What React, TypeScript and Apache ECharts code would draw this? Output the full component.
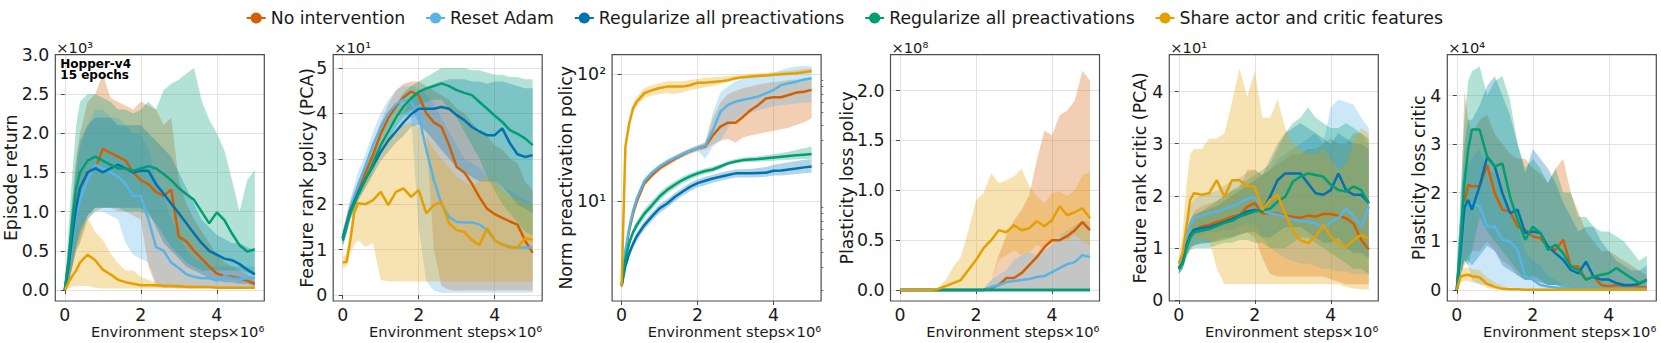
import React, { useEffect, useRef } from 'react';
import * as echarts from 'echarts';

const FONT = 'DejaVu Sans';

// Environment steps (x 10^6)
const X = [0, 0.1, 0.2, 0.3, 0.4, 0.6, 0.8, 1.0, 1.2, 1.4, 1.6, 1.8, 2.0, 2.2, 2.4, 2.6, 2.8, 3.0, 3.2, 3.4, 3.6, 3.8, 4.0, 4.2, 4.4, 4.6, 4.8, 5.0];

const NAMES = ['No intervention', 'Reset Adam', 'Regularize all preactivations', 'Regularize all preactivations#2', 'Share actor and critic features'];
const COLORS = ['#D55E00', '#56B4E9', '#0072B2', '#009E73', '#E69F00'];

// ---- Panel 1: Episode return (x10^3)
const retNoInt = [0, 0.35, 0.75, 1.1, 1.3, 1.5, 1.55, 1.8, 1.75, 1.7, 1.65, 1.5, 1.4, 1.35, 1.25, 1.2, 1.28, 0.68, 0.62, 0.5, 0.4, 0.3, 0.21, 0.18, 0.17, 0.15, 0.12, 0.08];
const retNoIntLo = [0, 0.1, 0.3, 0.5, 0.6, 0.9, 1.0, 1.05, 1.05, 1.0, 1.0, 0.95, 0.9, 0.3, 0.05, 0.03, 0.03, 0.02, 0.02, 0.02, 0.02, 0.02, 0.02, 0.02, 0.02, 0.02, 0.02, 0.02];
const retNoIntHi = [0, 0.6, 1.2, 1.7, 2.0, 2.4, 2.5, 2.75, 2.45, 2.4, 2.35, 2.3, 2.4, 2.35, 2.3, 2.1, 2.2, 1.4, 1.1, 0.9, 0.75, 0.6, 0.45, 0.35, 0.3, 0.25, 0.2, 0.15];
const retReset = [0, 0.3, 0.65, 0.95, 1.15, 1.4, 1.6, 1.55, 1.5, 1.45, 1.35, 1.2, 1.2, 0.9, 0.55, 0.5, 0.35, 0.28, 0.2, 0.17, 0.15, 0.15, 0.12, 0.18, 0.15, 0.14, 0.15, 0.16];
const retResetLo = [0, 0.1, 0.3, 0.5, 0.6, 0.9, 1.0, 1.0, 0.95, 0.9, 0.6, 0.45, 0.4, 0.35, 0.1, 0.05, 0.04, 0.03, 0.03, 0.03, 0.03, 0.03, 0.03, 0.03, 0.03, 0.03, 0.03, 0.03];
const retResetHi = [0, 0.6, 1.1, 1.5, 1.8, 2.1, 2.3, 2.3, 2.2, 2.2, 2.1, 2.0, 2.0, 1.8, 1.4, 1.2, 0.9, 0.7, 0.5, 0.4, 0.35, 0.3, 0.3, 0.3, 0.3, 0.3, 0.3, 0.3];
const retReg = [0, 0.3, 0.7, 1.05, 1.3, 1.5, 1.55, 1.5, 1.55, 1.6, 1.55, 1.5, 1.52, 1.52, 1.35, 1.23, 1.1, 0.98, 0.85, 0.72, 0.6, 0.5, 0.45, 0.4, 0.38, 0.33, 0.26, 0.2];
const retRegLo = [0, 0.1, 0.3, 0.55, 0.7, 0.95, 1.05, 1.05, 1.05, 1.05, 1.05, 1.05, 1.05, 1.0, 0.8, 0.6, 0.5, 0.4, 0.3, 0.25, 0.2, 0.15, 0.12, 0.1, 0.1, 0.08, 0.08, 0.05];
const retRegHi = [0, 0.5, 1.1, 1.6, 1.9, 2.1, 2.2, 2.2, 2.2, 2.1, 2.1, 2.1, 2.1, 2.0, 1.9, 1.8, 1.7, 1.5, 1.3, 1.1, 0.9, 0.8, 0.7, 0.65, 0.6, 0.6, 0.55, 0.5];
const retReg2 = [0, 0.4, 0.9, 1.3, 1.5, 1.65, 1.7, 1.65, 1.6, 1.55, 1.55, 1.52, 1.55, 1.58, 1.55, 1.48, 1.4, 1.3, 1.22, 1.15, 1.0, 0.85, 0.99, 0.89, 0.72, 0.57, 0.49, 0.52];
const retReg2Lo = [0, 0.1, 0.3, 0.55, 0.75, 0.95, 1.05, 1.05, 1.05, 1.05, 1.0, 1.0, 1.0, 0.95, 0.85, 0.7, 0.55, 0.45, 0.35, 0.3, 0.25, 0.25, 0.25, 0.25, 0.25, 0.25, 0.22, 0.2];
const retReg2Hi = [0, 0.8, 1.5, 2.1, 2.4, 2.5, 2.5, 2.45, 2.4, 2.3, 2.3, 2.25, 2.3, 2.4, 2.3, 2.55, 2.63, 2.68, 2.76, 2.83, 2.42, 2.17, 2.0, 1.78, 1.4, 1.0, 1.4, 1.53];
const retShare = [0, 0.1, 0.18, 0.25, 0.35, 0.45, 0.38, 0.26, 0.2, 0.13, 0.1, 0.08, 0.06, 0.06, 0.06, 0.05, 0.05, 0.05, 0.04, 0.04, 0.04, 0.04, 0.03, 0.03, 0.03, 0.03, 0.03, 0.03];
const retShareLo = [0, 0.02, 0.04, 0.05, 0.05, 0.05, 0.03, 0.02, 0.02, 0.02, 0.02, 0.02, 0.02, 0.02, 0.02, 0.02, 0.02, 0.02, 0.02, 0.02, 0.02, 0.02, 0.02, 0.02, 0.02, 0.02, 0.02, 0.02];
const retShareHi = [0, 0.2, 0.4, 0.6, 0.8, 0.92, 0.74, 0.64, 0.47, 0.34, 0.25, 0.25, 0.17, 0.13, 0.1, 0.08, 0.07, 0.06, 0.06, 0.05, 0.05, 0.05, 0.05, 0.05, 0.04, 0.04, 0.04, 0.04];

// ---- Panel 2: Feature rank policy (PCA) (x10^1)
const rpNoInt = [1.25, 1.55, 1.9, 2.1, 2.3, 2.7, 3.1, 3.55, 3.9, 4.15, 4.35, 4.48, 4.4, 4.0, 3.8, 3.7, 3.3, 2.82, 2.7, 2.45, 2.15, 1.9, 1.78, 1.7, 1.62, 1.55, 1.2, 0.93];
const rpNoIntLo = [1.1, 1.35, 1.7, 1.9, 2.1, 2.5, 2.9, 3.3, 3.6, 3.9, 4.0, 4.1, 3.8, 3.5, 1.0, 0.2, 0.12, 0.1, 0.1, 0.1, 0.1, 0.1, 0.1, 0.1, 0.1, 0.1, 0.1, 0.1];
const rpNoIntHi = [1.4, 1.75, 2.1, 2.3, 2.5, 2.9, 3.3, 3.8, 4.2, 4.5, 4.65, 4.7, 4.7, 4.6, 4.5, 4.4, 4.3, 4.1, 4.0, 3.8, 3.6, 3.5, 3.3, 3.2, 3.0, 2.9, 2.5, 2.3];
const rpReset = [1.25, 1.55, 1.9, 2.15, 2.4, 2.85, 3.3, 3.7, 4.0, 4.2, 4.3, 4.25, 3.96, 3.2, 2.53, 2.0, 1.72, 1.61, 1.6, 1.6, 1.55, 1.43, 1.2, 1.12, 1.07, 1.05, 1.05, 1.05];
const rpResetLo = [1.1, 1.35, 1.7, 1.95, 2.2, 2.6, 3.0, 3.4, 3.7, 3.9, 4.0, 3.9, 1.5, 0.3, 0.1, 0.05, 0.05, 0.05, 0.05, 0.05, 0.05, 0.05, 0.05, 0.05, 0.05, 0.05, 0.05, 0.05];
const rpResetHi = [1.4, 1.75, 2.1, 2.4, 2.7, 3.1, 3.6, 4.0, 4.3, 4.5, 4.6, 4.6, 4.55, 4.4, 4.2, 3.9, 3.6, 3.3, 3.0, 2.9, 2.8, 2.6, 2.5, 2.4, 2.3, 2.2, 2.1, 2.0];
const rpReg = [1.25, 1.55, 1.85, 2.05, 2.25, 2.55, 2.85, 3.15, 3.4, 3.6, 3.8, 3.98, 4.1, 4.1, 4.1, 4.14, 4.1, 3.96, 3.85, 3.7, 3.6, 3.52, 3.52, 3.67, 3.34, 3.1, 3.04, 3.08];
const rpRegLo = [1.1, 1.4, 1.7, 1.9, 2.1, 2.35, 2.65, 2.95, 3.15, 3.35, 3.5, 3.7, 3.75, 3.6, 3.4, 3.2, 3.0, 2.8, 2.7, 2.6, 2.5, 2.5, 2.5, 2.4, 2.2, 2.0, 1.9, 1.8];
const rpRegHi = [1.4, 1.7, 2.0, 2.2, 2.4, 2.75, 3.05, 3.35, 3.6, 3.85, 4.05, 4.3, 4.45, 4.55, 4.65, 4.7, 4.75, 4.75, 4.75, 4.7, 4.7, 4.65, 4.7, 4.7, 4.65, 4.6, 4.55, 4.55];
const rpReg2 = [1.2, 1.5, 1.8, 2.0, 2.2, 2.55, 2.9, 3.3, 3.6, 3.9, 4.15, 4.33, 4.47, 4.55, 4.6, 4.66, 4.6, 4.51, 4.45, 4.4, 4.25, 4.1, 3.95, 3.81, 3.63, 3.55, 3.45, 3.3];
const rpReg2Lo = [1.05, 1.35, 1.65, 1.85, 2.05, 2.4, 2.7, 3.1, 3.4, 3.7, 3.9, 4.05, 4.2, 4.25, 4.3, 4.3, 4.1, 3.9, 3.6, 3.3, 3.0, 2.6, 2.3, 2.0, 1.8, 1.6, 1.4, 1.3];
const rpReg2Hi = [1.35, 1.65, 1.95, 2.15, 2.35, 2.7, 3.1, 3.5, 3.9, 4.2, 4.45, 4.6, 4.7, 4.8, 4.9, 5.0, 5.0, 5.0, 5.0, 4.95, 4.95, 4.9, 4.85, 4.85, 4.8, 4.8, 4.75, 4.75];
const rpShare = [0.72, 0.73, 1.2, 1.8, 2.02, 2.0, 2.09, 2.27, 1.98, 2.27, 2.35, 2.16, 2.31, 1.8, 1.98, 2.05, 1.58, 1.43, 1.39, 1.21, 1.1, 1.47, 1.21, 1.1, 1.05, 1.05, 1.25, 1.22];
const rpShareLo = [0.6, 0.62, 0.9, 1.1, 1.2, 1.06, 1.14, 0.33, 0.3, 0.3, 0.3, 0.3, 0.3, 0.3, 0.3, 0.3, 0.3, 0.3, 0.3, 0.3, 0.3, 0.3, 0.3, 0.3, 0.3, 0.3, 0.3, 0.3];
const rpShareHi = [0.85, 0.9, 1.5, 2.1, 2.5, 2.8, 3.1, 3.3, 3.5, 3.6, 3.75, 3.8, 3.7, 3.5, 3.2, 3.0, 2.8, 2.6, 2.5, 2.4, 2.5, 2.6, 2.5, 2.3, 2.2, 2.1, 2.0, 2.0];

// ---- Panel 3: Norm preactivation policy (log)
const nmNoInt = [2.15, 3.9, 5.9, 8.0, 10.0, 13.9, 16.1, 18.2, 19.9, 21.6, 23.2, 24.8, 26.1, 27.0, 33, 38.7, 41.6, 41.6, 46.4, 52.4, 57.4, 64.6, 65.9, 65.9, 68.8, 71.8, 73, 75.4];
const nmNoIntLo = [2.05, 3.6, 5.5, 7.5, 9.4, 13.1, 15.3, 17.3, 19, 20.6, 22.1, 23.6, 24.8, 25.5, 28, 30, 31, 29, 32, 33, 34, 35, 36, 37, 38, 40, 42, 45];
const nmNoIntHi = [2.25, 4.2, 6.3, 8.5, 10.6, 14.7, 17, 19.2, 21, 22.7, 24.4, 26, 27.5, 29, 45, 60, 70, 74, 78, 80, 83, 85, 87, 88, 90, 91, 92, 93];
const nmReset = [2.15, 4.1, 6.2, 8.4, 10.5, 14.5, 16.8, 18.8, 20.5, 22, 23.5, 25, 26.3, 27.5, 36, 50.8, 57.4, 61, 63, 64.7, 67, 70.8, 75.4, 82.4, 85, 87.5, 91.2, 93];
const nmResetLo = [2.05, 3.8, 5.8, 7.9, 9.9, 13.7, 16, 17.9, 19.5, 21, 22.4, 23.9, 25, 21.5, 27, 30, 38, 44, 48, 50, 52, 54, 56, 57, 58, 59, 60, 60];
const nmResetHi = [2.25, 4.4, 6.6, 8.9, 11.1, 15.3, 17.6, 19.7, 21.5, 23, 24.6, 26.1, 27.6, 29, 50, 72, 80, 88, 92, 95, 97, 100, 103, 108, 112, 115, 116, 115];
const nmReg = [2.15, 3.1, 3.9, 4.6, 5.3, 6.5, 7.6, 8.8, 9.6, 10.8, 11.9, 13.0, 13.9, 14.5, 15.1, 15.6, 16.1, 16.6, 16.6, 16.6, 16.7, 16.8, 17.4, 17.5, 17.8, 18.1, 18.5, 18.8];
const nmRegLo = [2.05, 2.85, 3.6, 4.25, 4.9, 6.0, 7.0, 8.1, 8.9, 10.0, 11.0, 12.0, 12.9, 13.4, 14.0, 14.5, 15.0, 15.4, 15.4, 15.4, 15.5, 15.6, 16.0, 16.0, 16.2, 16.4, 16.6, 16.8];
const nmRegHi = [2.25, 3.35, 4.2, 4.95, 5.7, 7.0, 8.2, 9.5, 10.4, 11.6, 12.8, 14.0, 14.9, 15.6, 16.2, 16.8, 17.3, 17.8, 17.9, 18.0, 18.3, 18.6, 19.4, 19.8, 20.3, 20.8, 21.2, 21.5];
const nmReg2 = [2.15, 3.5, 4.7, 5.7, 6.5, 8.0, 9.3, 10.9, 12.3, 13.5, 14.7, 15.7, 16.6, 17.3, 17.8, 18.8, 19.9, 20.6, 21.1, 21.3, 21.5, 21.8, 22.1, 22.4, 22.7, 23.0, 23.3, 23.6];
const nmReg2Lo = [2.05, 3.25, 4.35, 5.3, 6.0, 7.4, 8.6, 10.1, 11.5, 12.6, 13.8, 14.8, 15.7, 16.4, 17.0, 18.0, 19.1, 19.8, 20.3, 20.4, 20.5, 20.7, 20.9, 21.1, 21.2, 21.4, 21.5, 21.6];
const nmReg2Hi = [2.25, 3.75, 5.05, 6.1, 7.0, 8.7, 10.1, 11.8, 13.2, 14.4, 15.6, 16.6, 17.5, 18.2, 18.7, 19.7, 20.8, 21.5, 22.0, 22.3, 22.6, 23.0, 23.5, 24.0, 24.6, 25.3, 26.2, 27.0];
const nmShare = [2.15, 27, 41, 54, 61, 71, 75, 78, 80, 80, 80, 82, 86, 86, 87, 88, 90, 93, 95, 96, 97, 98, 99, 100, 101, 102, 104, 106];
const nmShareLo = [2.05, 24, 37, 49, 56, 65, 68, 70, 71, 70, 72, 75, 77, 79, 81, 84, 87, 90, 92, 94, 95, 96, 97, 98, 99, 100, 101, 103];
const nmShareHi = [2.25, 30, 45, 59, 67, 78, 82, 85, 88, 88, 88, 90, 92, 94, 95, 96, 97, 98, 99, 101, 102, 103, 104, 105, 106, 108, 110, 112];

// ---- Panel 4: Plasticity loss policy (x10^8)
const ppNoInt = [0, 0, 0, 0, 0, 0, 0, 0, 0, 0, 0, 0, 0, 0, 0.02, 0.05, 0.12, 0.12, 0.17, 0.25, 0.33, 0.43, 0.5, 0.5, 0.54, 0.6, 0.68, 0.6];
const ppNoIntLo = [0, 0, 0, 0, 0, 0, 0, 0, 0, 0, 0, 0, 0, 0, 0, 0, 0, 0, 0, 0, 0, 0, 0, 0, 0, 0, 0, 0];
const ppNoIntHi = [0, 0, 0, 0, 0, 0, 0, 0, 0, 0, 0, 0, 0, 0.01, 0.1, 0.35, 0.55, 0.7, 0.8, 0.95, 1.3, 1.6, 1.55, 1.75, 1.8, 1.9, 2.2, 2.1];
const ppReset = [0, 0, 0, 0, 0, 0, 0, 0, 0, 0, 0, 0, 0, 0, 0.03, 0.05, 0.08, 0.09, 0.1, 0.11, 0.13, 0.14, 0.18, 0.22, 0.26, 0.28, 0.35, 0.33];
const ppResetLo = [0, 0, 0, 0, 0, 0, 0, 0, 0, 0, 0, 0, 0, 0, 0, 0, 0, 0, 0, 0, 0, 0, 0, 0, 0, 0, 0, 0];
const ppResetHi = [0, 0, 0, 0, 0, 0, 0, 0, 0, 0, 0, 0, 0, 0.01, 0.1, 0.15, 0.2, 0.3, 0.35, 0.38, 0.35, 0.4, 0.45, 0.55, 0.6, 0.65, 0.7, 0.68];
const ppReg = [0, 0, 0, 0, 0, 0, 0, 0, 0, 0, 0, 0, 0, 0, 0, 0, 0, 0, 0, 0, 0, 0, 0, 0, 0, 0, 0, 0];
const ppRegLo = [0, 0, 0, 0, 0, 0, 0, 0, 0, 0, 0, 0, 0, 0, 0, 0, 0, 0, 0, 0, 0, 0, 0, 0, 0, 0, 0, 0];
const ppRegHi = [0, 0, 0, 0, 0, 0, 0, 0, 0, 0, 0, 0, 0, 0, 0, 0, 0, 0, 0, 0, 0, 0, 0, 0, 0, 0, 0, 0];
const ppReg2 = [0, 0, 0, 0, 0, 0, 0, 0, 0, 0, 0, 0, 0, 0, 0, 0, 0, 0, 0, 0, 0, 0, 0, 0, 0, 0, 0, 0];
const ppReg2Lo = [0, 0, 0, 0, 0, 0, 0, 0, 0, 0, 0, 0, 0, 0, 0, 0, 0, 0, 0, 0, 0, 0, 0, 0, 0, 0, 0, 0];
const ppReg2Hi = [0, 0, 0, 0, 0, 0, 0, 0, 0, 0, 0, 0, 0, 0, 0, 0, 0, 0, 0, 0, 0, 0, 0, 0, 0, 0, 0, 0];
const ppShare = [0, 0, 0, 0, 0, 0, 0, 0.01, 0.04, 0.07, 0.1, 0.2, 0.3, 0.42, 0.5, 0.6, 0.58, 0.65, 0.6, 0.62, 0.69, 0.64, 0.7, 0.84, 0.75, 0.78, 0.82, 0.72];
const ppShareLo = [0, 0, 0, 0, 0, 0, 0, 0, 0, 0, 0, 0, 0, 0, 0.1, 0.3, 0.35, 0.4, 0.35, 0.38, 0.45, 0.42, 0.48, 0.55, 0.5, 0.55, 0.5, 0.45];
const ppShareHi = [0, 0, 0, 0, 0, 0, 0, 0.02, 0.1, 0.23, 0.33, 0.6, 0.9, 0.97, 1.17, 1.07, 1.1, 1.14, 1.22, 1.04, 0.94, 0.87, 0.97, 0.99, 0.94, 1.0, 1.15, 1.18];

// ---- Panel 5: Feature rank critic (PCA) (x10^1)
const rcNoInt = [0.62, 0.7, 1.02, 1.2, 1.34, 1.41, 1.44, 1.5, 1.54, 1.6, 1.63, 1.79, 1.86, 1.66, 1.66, 1.66, 1.62, 1.6, 1.58, 1.62, 1.6, 1.65, 1.65, 1.62, 1.57, 1.47, 1.15, 0.97];
const rcNoIntLo = [0.55, 0.6, 0.85, 1.0, 1.05, 1.1, 1.1, 1.15, 1.2, 1.2, 1.25, 1.3, 1.2, 0.8, 0.5, 0.45, 0.45, 0.45, 0.45, 0.45, 0.45, 0.45, 0.4, 0.35, 0.3, 0.3, 0.3, 0.3];
const rcNoIntHi = [0.7, 0.8, 1.2, 1.5, 1.7, 1.8, 1.85, 1.9, 2.0, 2.1, 2.15, 2.5, 2.5, 2.4, 2.5, 2.6, 2.7, 2.8, 2.8, 2.9, 2.9, 3.0, 3.1, 3.0, 3.0, 3.2, 3.2, 3.0];
const rcReset = [0.6, 0.8, 1.2, 1.45, 1.57, 1.62, 1.66, 1.7, 1.75, 1.8, 1.86, 1.95, 1.98, 1.72, 1.66, 1.64, 1.6, 1.54, 1.52, 1.5, 1.47, 1.38, 1.5, 1.57, 1.76, 1.6, 1.41, 1.79];
const rcResetLo = [0.5, 0.6, 0.9, 1.1, 1.2, 1.25, 1.3, 1.3, 1.35, 1.35, 1.4, 1.45, 1.45, 1.2, 1.0, 0.9, 0.8, 0.75, 0.7, 0.7, 0.65, 0.6, 0.6, 0.55, 0.55, 0.5, 0.5, 0.5];
const rcResetHi = [0.7, 1.0, 1.5, 1.8, 1.95, 2.0, 2.05, 2.1, 2.2, 2.3, 2.35, 2.45, 2.5, 2.4, 2.5, 2.7, 2.8, 2.9, 3.0, 3.1, 3.2, 3.0, 3.7, 3.85, 3.8, 3.75, 3.5, 3.3];
const rcReg = [0.6, 0.72, 1.05, 1.25, 1.35, 1.38, 1.4, 1.45, 1.5, 1.55, 1.62, 1.7, 1.73, 1.7, 1.98, 2.3, 2.43, 2.43, 2.43, 2.24, 2.05, 2.02, 2.11, 2.43, 2.11, 2.02, 2.02, 1.86];
const rcRegLo = [0.5, 0.6, 0.85, 1.0, 1.05, 1.08, 1.1, 1.12, 1.15, 1.2, 1.25, 1.3, 1.3, 1.2, 1.2, 1.3, 1.4, 1.4, 1.4, 1.3, 1.2, 1.1, 1.1, 1.2, 1.0, 0.9, 0.9, 0.8];
const rcRegHi = [0.7, 0.85, 1.3, 1.55, 1.65, 1.7, 1.75, 1.8, 1.9, 2.0, 2.1, 2.2, 2.3, 2.4, 2.7, 3.0, 3.2, 3.3, 3.4, 3.3, 3.2, 3.1, 3.0, 3.2, 3.1, 3.0, 3.0, 2.9];
const rcReg2 = [0.6, 0.7, 1.0, 1.2, 1.3, 1.33, 1.36, 1.42, 1.48, 1.52, 1.6, 1.65, 1.7, 1.72, 1.75, 1.89, 1.98, 2.27, 2.37, 2.43, 2.4, 2.37, 2.21, 2.11, 2.08, 2.18, 2.11, 1.86];
const rcReg2Lo = [0.5, 0.6, 0.8, 0.95, 1.0, 1.0, 1.0, 1.05, 1.1, 1.1, 1.15, 1.15, 1.1, 1.1, 1.0, 1.0, 1.0, 1.1, 1.2, 1.2, 1.1, 1.0, 0.9, 0.8, 0.7, 0.6, 0.6, 0.5];
const rcReg2Hi = [0.7, 0.85, 1.25, 1.5, 1.6, 1.7, 1.8, 1.9, 2.0, 2.1, 2.2, 2.3, 2.4, 2.5, 2.6, 2.9, 3.2, 3.4, 3.5, 3.7, 3.5, 3.4, 3.3, 3.3, 3.4, 3.3, 3.2, 3.1];
const rcShare = [0.7, 0.9, 1.4, 1.92, 2.05, 2.02, 2.05, 2.3, 1.98, 2.3, 2.3, 2.18, 2.18, 1.73, 1.92, 2.02, 1.66, 1.34, 1.15, 1.09, 1.22, 1.44, 1.22, 1.09, 1.02, 1.15, 1.25, 1.18];
const rcShareLo = [0.65, 0.6, 0.9, 1.1, 1.2, 1.2, 1.15, 0.6, 0.3, 0.3, 0.3, 0.3, 0.3, 0.3, 0.3, 0.3, 0.3, 0.3, 0.3, 0.3, 0.3, 0.3, 0.3, 0.3, 0.25, 0.22, 0.2, 0.2];
const rcShareHi = [0.75, 1.3, 2.2, 2.8, 2.9, 2.9, 3.1, 3.1, 3.2, 3.8, 4.45, 3.9, 4.4, 3.5, 3.5, 3.85, 3.3, 3.0, 2.9, 2.8, 2.8, 2.9, 2.7, 2.5, 2.6, 3.0, 3.3, 3.2];

// ---- Panel 6: Plasticity loss critic (x10^4)
const pcNoInt = [0, 0.9, 1.78, 2.16, 2.13, 2.13, 2.57, 1.99, 1.65, 1.61, 1.3, 1.23, 1.1, 1.06, 0.89, 0.82, 1.03, 0.48, 0.48, 0.21, 0.27, 0.1, 0.07, 0.1, 0.08, 0.08, 0.06, 0.05];
const pcNoIntLo = [0, 0.3, 0.5, 0.7, 0.8, 0.8, 1.0, 0.8, 0.6, 0.5, 0.3, 0.2, 0.2, 0.15, 0.1, 0.1, 0.1, 0.05, 0.03, 0.02, 0.02, 0.02, 0.02, 0.02, 0.02, 0.02, 0.02, 0.02];
const pcNoIntHi = [0, 1.5, 4.1, 3.5, 3.2, 3.5, 3.6, 3.2, 3.0, 2.8, 2.7, 2.7, 2.5, 2.4, 2.2, 2.5, 2.7, 2.0, 1.6, 1.2, 1.0, 0.8, 0.8, 0.7, 0.6, 0.5, 0.4, 0.3];
const pcReset = [0, 1.3, 1.78, 1.8, 1.78, 1.72, 1.3, 1.3, 1.03, 0.99, 0.82, 0.27, 0.21, 0.1, 0.07, 0.05, 0.03, 0.02, 0.02, 0.02, 0.02, 0.02, 0.02, 0.02, 0.02, 0.02, 0.02, 0.02];
const pcResetLo = [0, 0.5, 0.6, 0.5, 0.2, 0.1, 0.1, 0.1, 0.05, 0.05, 0.02, 0.01, 0.01, 0.01, 0.01, 0.01, 0.01, 0.01, 0.01, 0.01, 0.01, 0.01, 0.01, 0.01, 0.01, 0.01, 0.01, 0.01];
const pcResetHi = [0, 2.0, 2.5, 2.6, 2.7, 2.9, 2.5, 2.4, 2.0, 1.6, 1.3, 0.8, 0.6, 0.5, 0.3, 0.2, 0.1, 0.06, 0.06, 0.06, 0.06, 0.06, 0.06, 0.06, 0.06, 0.06, 0.06, 0.06];
const pcReg = [0, 0.8, 1.7, 1.85, 1.65, 2.13, 2.74, 2.54, 1.99, 1.58, 1.65, 1.17, 1.2, 1.17, 0.89, 0.75, 0.62, 0.41, 0.34, 0.58, 0.27, 0.21, 0.21, 0.14, 0.1, 0.1, 0.12, 0.2];
const pcRegLo = [0, 0.3, 0.6, 0.6, 0.5, 0.7, 0.9, 0.8, 0.5, 0.4, 0.3, 0.2, 0.2, 0.15, 0.1, 0.1, 0.05, 0.03, 0.03, 0.02, 0.02, 0.02, 0.02, 0.02, 0.02, 0.02, 0.02, 0.02];
const pcRegHi = [0, 1.5, 3.0, 3.5, 3.5, 3.8, 4.2, 4.4, 4.0, 3.6, 3.0, 2.4, 2.9, 2.7, 2.5, 2.2, 1.8, 1.5, 1.2, 1.3, 1.3, 1.0, 0.8, 0.6, 0.5, 0.4, 0.4, 0.5];
const pcReg2 = [0, 1.0, 2.2, 2.9, 3.3, 3.3, 2.74, 2.54, 2.6, 1.92, 1.44, 1.03, 1.3, 1.17, 0.82, 0.93, 0.75, 0.48, 0.41, 0.21, 0.27, 0.31, 0.34, 0.45, 0.34, 0.24, 0.14, 0.21];
const pcReg2Lo = [0, 0.3, 0.6, 0.5, 0.8, 1.5, 1.2, 1.0, 0.8, 0.6, 0.4, 0.2, 0.3, 0.2, 0.1, 0.1, 0.05, 0.05, 0.02, 0.02, 0.02, 0.02, 0.02, 0.02, 0.02, 0.02, 0.02, 0.02];
const pcReg2Hi = [0, 2.0, 3.5, 4.3, 4.5, 4.6, 4.0, 4.3, 4.4, 3.9, 3.0, 2.5, 2.7, 2.5, 2.2, 2.5, 2.0, 2.0, 1.5, 1.5, 1.3, 1.2, 1.2, 1.1, 1.0, 0.8, 0.6, 0.7];
const pcShare = [0, 0.27, 0.3, 0.31, 0.28, 0.26, 0.12, 0.06, 0.02, 0.01, 0.01, 0, 0, 0, 0, 0, 0, 0, 0, 0, 0, 0, 0, 0, 0, 0, 0, 0];
const pcShareLo = [0, 0.15, 0.18, 0.18, 0.15, 0.13, 0.04, 0.01, 0, 0, 0, 0, 0, 0, 0, 0, 0, 0, 0, 0, 0, 0, 0, 0, 0, 0, 0, 0];
const pcShareHi = [0, 0.42, 0.45, 0.46, 0.43, 0.41, 0.25, 0.15, 0.08, 0.04, 0.02, 0, 0, 0, 0, 0, 0, 0, 0, 0, 0, 0, 0, 0, 0, 0, 0, 0];

// tick values
const X_TICKS = [0, 2, 4];
const RET_TICKS = [0, 0.5, 1, 1.5, 2, 2.5, 3];
const RANKP_TICKS = [0, 1, 2, 3, 4, 5];
const NORM_TICKS = [10, 100];
const NORM_MINOR = [2, 3, 4, 5, 6, 7, 8, 9, 20, 30, 40, 50, 60, 70, 80, 90];
const PLP_TICKS = [0, 0.5, 1, 1.5, 2];
const RANKC_TICKS = [0, 1, 2, 3, 4];
const PLC_TICKS = [0, 1, 2, 3, 4];

const PANELS = [
  { ylabel: 'Episode return', min: -0.14, max: 3.0, ticks: RET_TICKS, dec: 1, offset: '×10³', gap: 44,
    s: [[retNoInt, retNoIntLo, retNoIntHi], [retReset, retResetLo, retResetHi], [retReg, retRegLo, retRegHi], [retReg2, retReg2Lo, retReg2Hi], [retShare, retShareLo, retShareHi]] },
  { ylabel: 'Feature rank policy (PCA)', min: -0.13, max: 5.29, ticks: RANKP_TICKS, dec: 0, offset: '×10¹', gap: 26.5,
    s: [[rpNoInt, rpNoIntLo, rpNoIntHi], [rpReset, rpResetLo, rpResetHi], [rpReg, rpRegLo, rpRegHi], [rpReg2, rpReg2Lo, rpReg2Hi], [rpShare, rpShareLo, rpShareHi]] },
  { ylabel: 'Norm preactivation policy', min: 1.64, max: 142.7, ticks: NORM_TICKS, dec: 0, offset: '', gap: 46.5, log: true,
    s: [[nmNoInt, nmNoIntLo, nmNoIntHi], [nmReset, nmResetLo, nmResetHi], [nmReg, nmRegLo, nmRegHi], [nmReg2, nmReg2Lo, nmReg2Hi], [nmShare, nmShareLo, nmShareHi]] },
  { ylabel: 'Plasticity loss policy', min: -0.11, max: 2.36, ticks: PLP_TICKS, dec: 1, offset: '×10⁸', gap: 44,
    s: [[ppNoInt, ppNoIntLo, ppNoIntHi], [ppReset, ppResetLo, ppResetHi], [ppReg, ppRegLo, ppRegHi], [ppReg2, ppReg2Lo, ppReg2Hi], [ppShare, ppShareLo, ppShareHi]] },
  { ylabel: 'Feature rank critic (PCA)', min: -0.02, max: 4.71, ticks: RANKC_TICKS, dec: 0, offset: '×10¹', gap: 29,
    s: [[rcNoInt, rcNoIntLo, rcNoIntHi], [rcReset, rcResetLo, rcResetHi], [rcReg, rcRegLo, rcRegHi], [rcReg2, rcReg2Lo, rcReg2Hi], [rcShare, rcShareLo, rcShareHi]] },
  { ylabel: 'Plasticity loss critic', min: -0.23, max: 4.84, ticks: PLC_TICKS, dec: 0, offset: '×10⁴', gap: 28.5,
    s: [[pcNoInt, pcNoIntLo, pcNoIntHi], [pcReset, pcResetLo, pcResetHi], [pcReg, pcRegLo, pcRegHi], [pcReg2, pcReg2Lo, pcReg2Hi], [pcShare, pcShareLo, pcShareHi]] },
];

const GRID_LEFT = [55.3, 333.2, 612.1, 890.5, 1169.3, 1447.3];
const GRID_TOP = 54.7;
const GRID_W = 209;
const GRID_H = 246.3;

const SUP: Record<string, string> = { '1': '¹', '2': '²' };

function rgba(hex: string, a: number) {
  const n = parseInt(hex.slice(1), 16);
  return `rgba(${(n >> 16) & 255},${(n >> 8) & 255},${n & 255},${a})`;
}

function buildOption() {
  const grids: any[] = [];
  const xAxes: any[] = [];
  const yAxes: any[] = [];
  const series: any[] = [];
  const graphics: any[] = [];
  const tickColor = '#4a4a4a';
  const textColor = '#1a1a1a';
  const splitLine = { show: true, lineStyle: { color: '#e2e2e2', width: 1, type: 'solid' } };

  PANELS.forEach((p, i) => {
    grids.push({ left: GRID_LEFT[i], top: GRID_TOP, width: GRID_W, height: GRID_H, show: false, containLabel: false });
    xAxes.push({
      type: 'value', gridIndex: i, min: -0.25, max: 5.25,
      axisLine: { show: false },
      axisTick: { show: true, length: 4, customValues: X_TICKS, lineStyle: { color: tickColor, width: 1 } },
      axisLabel: { customValues: X_TICKS, margin: 5, fontSize: 17.33, color: textColor, fontFamily: FONT, formatter: (v: number) => String(v) },
      splitLine,
    });
    yAxes.push({
      type: p.log ? 'log' : 'value', logBase: 10, gridIndex: i, min: p.min, max: p.max,
      axisLine: { show: false },
      axisTick: { show: true, length: 4, customValues: p.ticks, lineStyle: { color: tickColor, width: 1 } },
      axisLabel: {
        customValues: p.ticks, margin: 6, fontSize: 17.33, color: textColor, fontFamily: FONT,
        formatter: (v: number) => p.log ? '10' + SUP[String(Math.round(Math.log10(v)))] : v.toFixed(p.dec),
      },
      splitLine,
    });
  });
  // minor ticks for the log axis
  yAxes.push({
    type: 'log', logBase: 10, gridIndex: 2, min: PANELS[2].min, max: PANELS[2].max,
    axisLine: { show: false }, axisLabel: { show: false }, splitLine: { show: false },
    axisTick: { show: true, length: 2.2, customValues: NORM_MINOR, lineStyle: { color: tickColor, width: 0.8 } },
  });

  PANELS.forEach((p, i) => {
    p.s.forEach((arr, k) => {
      const [, lo, hi] = arr;
      series.push({
        type: 'custom', name: `band-${i}-${k}`, xAxisIndex: i, yAxisIndex: i, silent: true, z: 1,
        data: X.map((x, j) => [x, lo[j], hi[j]]),
        encode: { x: 0, y: [1, 2] },
        renderItem: (params: any, api: any) => {
          if (params.dataIndex !== 0) return null;
          const pts: number[][] = [];
          for (let j = 0; j < X.length; j++) pts.push(api.coord([X[j], hi[j]]));
          for (let j = X.length - 1; j >= 0; j--) pts.push(api.coord([X[j], lo[j]]));
          return { type: 'polygon', shape: { points: pts }, style: { fill: rgba(COLORS[k], 0.3), stroke: null } };
        },
      });
    });
    p.s.forEach((arr, k) => {
      series.push({
        type: 'line', name: NAMES[k], xAxisIndex: i, yAxisIndex: i, z: 3,
        data: X.map((x, j) => [x, arr[0][j]]),
        symbol: 'none', showSymbol: false, smooth: false,
        lineStyle: { color: COLORS[k], width: 2.5 }, itemStyle: { color: COLORS[k] },
      });
    });

    const left = GRID_LEFT[i];
    const right = left + GRID_W;
    const midY = GRID_TOP + GRID_H / 2;
    // axes frame
    graphics.push({
      type: 'rect', z: 100, silent: true,
      shape: { x: left, y: GRID_TOP, width: GRID_W, height: GRID_H },
      style: { fill: 'none', stroke: '#4d4d4d', lineWidth: 1.2 },
    });
    graphics.push({
      type: 'text', x: left - p.gap, y: midY, rotation: Math.PI / 2,
      style: { text: p.ylabel, fontSize: 17.33, fontFamily: FONT, fill: textColor, align: 'center', verticalAlign: 'middle' },
    });
    graphics.push({
      type: 'text', x: left + GRID_W / 2, y: 331.5,
      style: { text: 'Environment steps', fontSize: 14.67, fontFamily: FONT, fill: textColor, align: 'center', verticalAlign: 'middle' },
    });
    graphics.push({
      type: 'text', x: right, y: 331.5,
      style: { text: '×10⁶', fontSize: 14.67, fontFamily: FONT, fill: textColor, align: 'right', verticalAlign: 'middle' },
    });
    if (p.offset) {
      graphics.push({
        type: 'text', x: left + 1, y: 47,
        style: { text: p.offset, fontSize: 14.67, fontFamily: FONT, fill: textColor, align: 'left', verticalAlign: 'middle' },
      });
    }
  });

  graphics.push({
    type: 'text', x: GRID_LEFT[0] + 5, y: 63.5, z: 101,
    style: { text: 'Hopper-v4', fontSize: 12, fontWeight: 'bold', fontFamily: FONT, fill: '#000', align: 'left', verticalAlign: 'middle' },
  });
  graphics.push({
    type: 'text', x: GRID_LEFT[0] + 5, y: 74.5, z: 101,
    style: { text: '15 epochs', fontSize: 12, fontWeight: 'bold', fontFamily: FONT, fill: '#000', align: 'left', verticalAlign: 'middle' },
  });

  return {
    animation: false,
    backgroundColor: '#ffffff',
    textStyle: { fontFamily: FONT },
    legend: {
      data: NAMES, left: 245.7, top: 8, padding: 0, orient: 'horizontal',
      itemWidth: 19, itemHeight: 14, itemGap: 19.8, selectedMode: false,
      textStyle: { fontSize: 17.33, color: textColor, fontFamily: FONT, lineHeight: 20 },
      formatter: (n: string) => n.replace('#2', ''),
    },
    grid: grids,
    xAxis: xAxes,
    yAxis: yAxes,
    series,
    graphic: graphics,
  };
}

export default function App() {
  const ref = useRef<HTMLDivElement>(null);
  useEffect(() => {
    if (!ref.current) return;
    const chart = echarts.init(ref.current, null, { renderer: 'svg' });
    chart.setOption(buildOption() as any);
    return () => chart.dispose();
  }, []);
  return <div ref={ref} style={{ position: 'fixed', left: 0, top: 0, width: 1661, height: 343, background: '#fff' }} />;
}
